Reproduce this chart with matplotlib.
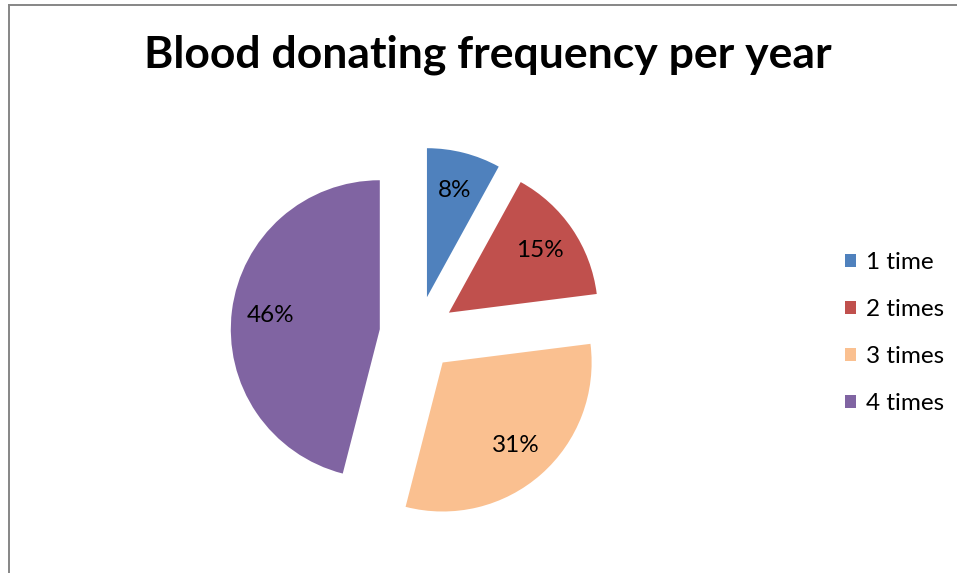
import matplotlib.pyplot as plt
from matplotlib.lines import Line2D

labels = ['1 time', '2 times', '3 times', '4 times']
shares = [8, 15, 31, 46]
colors = ['#4F81BD', '#C0504D', '#FAC090', '#8064A2']

W, H = 957, 573
cx, cy, r = 417.5, 334, 149  # pie centre / radius in pixels

fig = plt.figure(figsize=(W / 100, H / 100), dpi=100)
ax = fig.add_axes([0, 0, 1, 1])

wedges, texts, pcts = ax.pie(
    shares, colors=colors, startangle=90, counterclock=False,
    explode=[0.255] * len(shares), autopct='%1.0f%%', pctdistance=0.74,
    textprops={'fontsize': 17.5, 'family': 'Lato'},
    wedgeprops={'linewidth': 0},
)

ax.set_xlim(-cx / r, (W - cx) / r)
ax.set_ylim(-(H - cy) / r, cy / r)
ax.set_aspect('equal')
ax.axis('off')

fig.text(488 / W, 1 - 55 / H, 'Blood donating frequency per year',
         ha='center', va='center', fontsize=32, fontweight='bold', family='Lato')

leg = fig.legend(wedges, labels, loc='center left', bbox_to_anchor=(823 / W, 1 - 333 / H),
                 frameon=False, prop={'family': 'Lato', 'size': 17.5},
                 handlelength=0.45, handleheight=0.45, handletextpad=0.4,
                 labelspacing=1.07)

# chart frame (only top and left edges fall inside the image)
fig.add_artist(Line2D([8.5 / W, 8.5 / W], [0, 1 - 4.5 / H], color='#868686', lw=1.4))
fig.add_artist(Line2D([8.5 / W, 1], [1 - 4.5 / H, 1 - 4.5 / H], color='#868686', lw=1.4))

fig.savefig('out.png', dpi=100)
